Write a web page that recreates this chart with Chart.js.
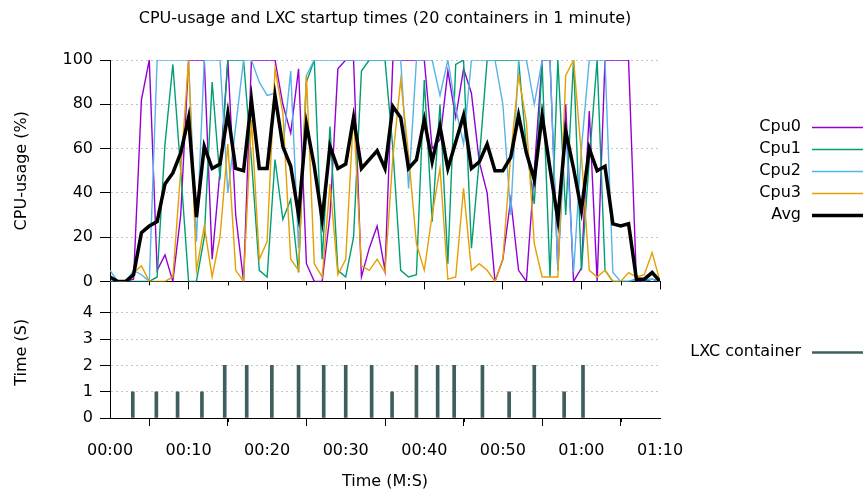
<!DOCTYPE html>
<html>
<head>
<meta charset="utf-8">
<script src="https://cdn.jsdelivr.net/npm/chart.js@4"></script>
<style>
  body { margin: 0; background: #fff; }
  #wrap { position: relative; width: 863px; height: 495px; }
  canvas { position: absolute; left: 0; }
</style>
</head>
<body>
<div id="wrap">
  <canvas id="cpuChart" width="863" height="298" style="top:0"></canvas>
  <canvas id="lxcChart" width="863" height="225" style="top:270px"></canvas>
</div>
<script>
// sample times (s) for the cpu traces
const seconds = [0,1,2,3,4,5,6,7,8,9,10,11,12,13,14,15,16,17,18,19,20,21,22,23,24,25,26,27,28,29,30,31,32,33,34,35,36,37,38,39,40,41,42,43,44,45,46,47,48,49,50,51,52,53,54,55,56,57,58,59,60,61,62,63,64,65,66,67,68,69,70];

const cpu0 = [0,0,0,1,82,100,5,12,0,30, 100,100,100,10,50,100,30,0,100,100, 100,100,80,67,96,8,0,0,30,96, 100,100,2,15,25,5,100,100,100,100, 100,60,64,95,74,96,85,54,40,0, 10,37,5,0,50,100,100,5,80,0, 6,77,0,100,100,100,100,0,0,1, 0];
const cpu1 = [0,0,0,0,0,0,2,62,98,50, 0,0,20,90,46,100,100,100,55,5, 2,55,28,37,4,90,100,10,70,5, 2,20,95,100,100,100,60,5,2,3, 91,27,80,8,98,100,15,55,100,100, 100,100,100,60,35,98,2,100,30,100, 5,55,100,5,0,0,0,1,0,1, 0];
const cpu2 = [5,0,0,5,3,0,100,100,100,100, 100,18,100,100,100,40,70,100,100,90, 84,85,60,95,15,93,100,100,100,100, 100,100,100,100,100,100,100,100,42,100, 100,100,84,100,78,62,100,100,100,100, 80,30,100,100,80,100,100,5,70,4, 60,100,100,100,4,0,0,1,1,1, 0];
const cpu3 = [2,0,0,4,7,0,0,0,2,50, 100,5,25,2,20,62,5,0,73,10, 18,96,76,10,5,93,8,2,44,3, 10,76,7,5,10,4,56,91,57,17, 5,30,51,1,2,42,5,8,5,0, 10,57,93,72,17,2,2,2,93,100, 57,5,2,5,0,0,4,2,3,13, 0];
const cpuAvg = [2,0,0,3,22,25,27,44,49,58, 74,29,61,51,53,76,51,50,82,51, 51,84,61,52,30,71,52,28,61,51, 53,74,51,55,59,51,79,74,51,55, 73,54,70,51,63,75,51,54,62,50, 50,56,75,58,46,75,51,28,68,51, 32,60,50,52,26,25,26,1,1,4, 0];

// container start moments (s) and how long each took (s)
const startTimes = [2.9, 5.9, 8.6, 11.7, 14.6, 17.4, 20.6, 24.0, 27.2, 30.0, 33.3, 35.9, 39.0, 41.7, 43.8, 47.4, 50.8, 54.0, 57.8, 60.2];
const startDurations = [1, 1, 1, 1, 2, 2, 2, 2, 2, 2, 2, 1, 2, 2, 2, 2, 1, 2, 1, 2];

const timeLabels = ['00:00', '00:10', '00:20', '00:30', '00:40', '00:50', '01:00', '01:10'];
const minorTickSeconds = [5, 15, 25, 35, 45, 55, 65];

Chart.defaults.font.family = '"DejaVu Sans", sans-serif';
Chart.defaults.font.size = 16;
Chart.defaults.color = '#000';

const points = (vals) => vals.map((v, i) => ({ x: seconds[i], y: v }));

// gnuplot style key on the right of the plot
const sideLegend = {
    id: 'sideLegend',
    afterDraw(chart, args, opts) {
        const { ctx, chartArea } = chart;
        const items = chart.data.datasets;
        const mid = (chartArea.top + chartArea.bottom) / 2;
        ctx.save();
        ctx.font = '16px "DejaVu Sans"';
        ctx.textAlign = 'right';
        ctx.textBaseline = 'middle';
        items.forEach((ds, i) => {
            const y = Math.round(mid + (i - (items.length - 1) / 2) * opts.spacing);
            ctx.fillStyle = '#000';
            ctx.fillText(ds.label, chartArea.right + opts.textRight, y);
            ctx.strokeStyle = ds.legendColor;
            ctx.lineWidth = ds.legendWidth;
            ctx.beginPath();
            ctx.moveTo(chartArea.right + opts.lineStart, y + 0.5);
            ctx.lineTo(chartArea.right + opts.lineEnd, y + 0.5);
            ctx.stroke();
        });
        ctx.restore();
    }
};

// small ticks between the labelled ones
const minorTicks = {
    id: 'minorTicks',
    afterDraw(chart, args, opts) {
        const { ctx, chartArea, scales } = chart;
        ctx.save();
        ctx.strokeStyle = '#000';
        ctx.lineWidth = 1;
        minorTickSeconds.forEach((s) => {
            const px = Math.round(scales.x.getPixelForValue(s)) + 0.5;
            ctx.beginPath();
            ctx.moveTo(px, chartArea.bottom);
            ctx.lineTo(px, chartArea.bottom + opts.length);
            ctx.stroke();
        });
        ctx.restore();
    }
};

const legendOpts = { spacing: 22, textRight: 141, lineStart: 152, lineEnd: 203 };

const cpuLine = (label, data, color, width, order) => ({
    label: label,
    data: points(data),
    borderColor: color,
    borderWidth: width,
    legendColor: color,
    legendWidth: width,
    pointRadius: 0,
    tension: 0,
    order: order,
});

new Chart(document.getElementById('cpuChart'), {
    type: 'line',
    data: {
        datasets: [
            cpuLine('Cpu0', cpu0, '#9400d3', 1.4, 4),
            cpuLine('Cpu1', cpu1, '#009e73', 1.4, 3),
            cpuLine('Cpu2', cpu2, '#56b4e9', 1.4, 2),
            cpuLine('Cpu3', cpu3, '#e69f00', 1.4, 1),
            cpuLine('Avg', cpuAvg, '#000000', 3.5, 0),
        ],
    },
    options: {
        responsive: false,
        animation: false,
        layout: { padding: { left: 0, right: 203, top: 0, bottom: 0 } },
        plugins: {
            legend: { display: false },
            tooltip: { enabled: false },
            title: {
                display: true,
                text: 'CPU-usage and LXC startup times (20 containers in 1 minute)',
                fullSize: false,
                color: '#000',
                font: { size: 16, weight: 'normal' },
                padding: { top: 9, bottom: 31.8 },
            },
            sideLegend: legendOpts,
            minorTicks: { length: 4 },
        },
        scales: {
            x: {
                type: 'linear',
                min: 0,
                max: 70,
                ticks: { display: false, stepSize: 10 },
                grid: { drawOnChartArea: false, tickLength: 8, tickColor: '#000' },
                border: { color: '#000' },
                afterFit: (s) => { s.height = 10; },
            },
            y: {
                min: 0,
                max: 100,
                ticks: { stepSize: 20, padding: 7 },
                grid: { color: '#c4c4c4', tickColor: '#000', tickLength: 10 },
                border: { color: '#000', dash: [2, 3] },
                title: { display: true, text: 'CPU-usage (%)', padding: { top: 12 } },
                afterFit: (s) => { s.width = 110; },
            },
        },
    },
    plugins: [sideLegend, minorTicks],
});

new Chart(document.getElementById('lxcChart'), {
    type: 'bar',
    data: {
        datasets: [{
            label: 'LXC container',
            data: startTimes.map((t, i) => ({ x: t, y: startDurations[i] })),
            backgroundColor: '#3f5e5e',
            borderWidth: 0,
            legendColor: '#3f5e5e',
            legendWidth: 2.5,
            barThickness: 3,
        }],
    },
    options: {
        responsive: false,
        animation: false,
        layout: { padding: { left: 0, right: 203, top: 10, bottom: 0 } },
        plugins: {
            legend: { display: false },
            tooltip: { enabled: false },
            sideLegend: legendOpts,
            minorTicks: { length: 4 },
        },
        scales: {
            x: {
                type: 'linear',
                offset: false,
                min: 0,
                max: 70,
                ticks: {
                    stepSize: 10,
                    padding: 15,
                    maxRotation: 0,
                    autoSkip: false,
                    callback: (v) => timeLabels[v / 10],
                },
                grid: { drawOnChartArea: false, tickLength: 8, tickColor: '#000' },
                border: { color: '#000' },
                title: { display: true, text: 'Time (M:S)', padding: { top: 0, bottom: 4 } },
                afterFit: (s) => { s.height = 77; },
            },
            y: {
                min: 0,
                max: 5,
                ticks: { stepSize: 1, padding: 7, callback: (v) => (v < 5 ? v : '') },
                grid: {
                    color: (c) => (c.tick && c.tick.value > 0 && c.tick.value < 5 ? '#c4c4c4' : 'rgba(0,0,0,0)'),
                    tickColor: (c) => (c.tick && c.tick.value === 5 ? 'rgba(0,0,0,0)' : '#000'),
                    tickLength: 10,
                },
                border: { color: '#000', dash: [2, 3] },
                title: { display: true, text: 'Time (S)', padding: { top: 12 } },
                afterFit: (s) => { s.width = 110; },
            },
        },
    },
    plugins: [sideLegend, minorTicks],
});
</script>
</body>
</html>
